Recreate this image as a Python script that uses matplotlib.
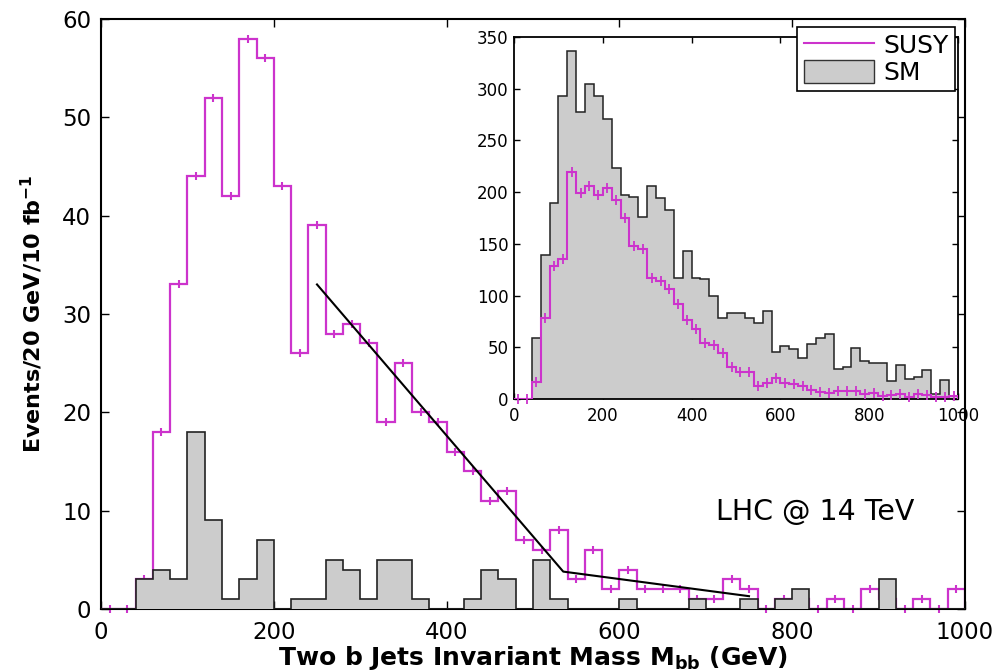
import numpy as np
import matplotlib.pyplot as plt
from matplotlib.lines import Line2D
from matplotlib.patches import Patch

MAGENTA = '#cc33cc'
GRAY = '#cccccc'

# 20 GeV bins, 0 - 1000 GeV
edges = np.arange(0, 1001, 20)
centers = edges[:-1] + 10

# main plot: events / 20 GeV / 10 fb^-1
susy_main = [0, 0, 3, 18, 33, 44, 52, 42, 58, 56,
             43, 26, 39, 28, 29, 27, 19, 25, 20, 19,
             16, 14, 11, 12, 7, 6, 8, 3, 6, 2,
             4, 2, 2, 2, 1, 1, 3, 2, 0, 1,
             1, 0, 1, 0, 2, 1, 0, 1, 0, 2]
sm_main = [0, 0, 3, 4, 3, 18, 9, 1, 3, 7,
           0, 1, 1, 5, 4, 1, 5, 5, 1, 0,
           0, 1, 4, 3, 0, 5, 1, 0, 0, 0,
           1, 0, 0, 0, 1, 0, 0, 1, 0, 1,
           2, 0, 0, 0, 0, 3, 0, 0, 0, 0]

# straight-line fit drawn over the tail
fit_x = [250, 535, 750]
fit_y = [33, 3.8, 1.3]

# inset
susy_inset = [0, 0, 16, 78, 129, 135, 219, 199, 206, 197,
              204, 192, 175, 148, 145, 117, 114, 106, 92, 76,
              68, 54, 52, 44, 31, 26, 26, 13, 15, 20,
              15, 14, 13, 9, 7, 6, 8, 8, 8, 5,
              6, 3, 4, 5, 2, 5, 4, 2, 2, 3]
sm_inset = [0, 0, 59, 139, 189, 293, 336, 277, 305, 293,
            271, 223, 197, 195, 176, 206, 194, 183, 117, 143,
            117, 116, 100, 78, 83, 83, 78, 73, 85, 45,
            51, 48, 40, 53, 59, 63, 29, 31, 49, 37,
            35, 35, 17, 33, 19, 21, 28, 5, 18, 3]

plt.rcParams['font.family'] = 'DejaVu Sans'
plt.rcParams['mathtext.fontset'] = 'dejavusans'

fig = plt.figure(figsize=(10, 6.72), dpi=100)

# main axes
ax = fig.add_axes([0.101, 0.0938, 0.864, 0.878])
ax.stairs(susy_main, edges, color=MAGENTA, linewidth=1.6, zorder=2)
ax.plot(centers, susy_main, ls='none', marker='|', ms=6, mew=1.5,
        color=MAGENTA, clip_on=False, zorder=2)
ax.stairs(sm_main, edges, fill=True, facecolor=GRAY, edgecolor='#222222',
          linewidth=1.2, zorder=3)
ax.plot(fit_x, fit_y, color='black', linewidth=1.5, zorder=4)

ax.set_xlim(0, 1000)
ax.set_ylim(0, 60)
ax.set_xticks(range(0, 1001, 200))
ax.set_yticks(range(0, 61, 10))
ax.tick_params(direction='in', length=6, width=1, top=True, right=True,
               labelsize=16.5)
ax.tick_params(axis='x', pad=9)
ax.tick_params(axis='y', pad=7)
for s in ax.spines.values():
    s.set_linewidth(1.5)
ax.set_xlabel(r'Two b Jets Invariant Mass M$_{\mathbf{bb}}$ (GeV)',
              fontsize=18, fontweight='bold', labelpad=0)
ax.set_ylabel(r'Events/20 GeV/10 fb$^{\mathbf{-1}}$',
              fontsize=16, fontweight='bold', labelpad=12)
ax.text(712, 9, 'LHC @ 14 TeV', fontsize=20.5, ha='left', va='baseline')

# inset
ins = fig.add_axes([0.514, 0.4063, 0.444, 0.5387], zorder=5)
ins.set_facecolor('white')
ins.stairs(sm_inset, edges, fill=True, facecolor=GRAY, edgecolor='#222222',
           linewidth=1.1, zorder=2)
ins.stairs(susy_inset, edges, color=MAGENTA, linewidth=1.5, zorder=3)
ins.plot(centers, susy_inset, ls='none', marker='|', ms=7, mew=1.3,
         color=MAGENTA, clip_on=False, zorder=3)
ins.set_xlim(0, 1000)
ins.set_ylim(0, 350)
ins.set_xticks(range(0, 1001, 200))
ins.set_yticks(range(0, 351, 50))
ins.tick_params(direction='in', length=4, width=1, top=True, right=True,
                labelsize=12, pad=4)
ins.tick_params(axis='x', pad=6)
for s in ins.spines.values():
    s.set_linewidth(1.3)

handles = [Line2D([], [], color=MAGENTA, linewidth=1.5),
           Patch(facecolor=GRAY, edgecolor='#333333', linewidth=1)]
leg = fig.legend(handles, ['SUSY', 'SM'], loc='upper right',
                 bbox_to_anchor=(0.955, 0.960), fontsize=18,
                 fancybox=False, framealpha=1, edgecolor='black',
                 handlelength=2.8, handleheight=1.0, handletextpad=0.4,
                 borderpad=0.25, labelspacing=0.1, borderaxespad=0)
leg.get_frame().set_linewidth(1.2)
leg.set_zorder(10)

fig.savefig('out.png', dpi=100)
